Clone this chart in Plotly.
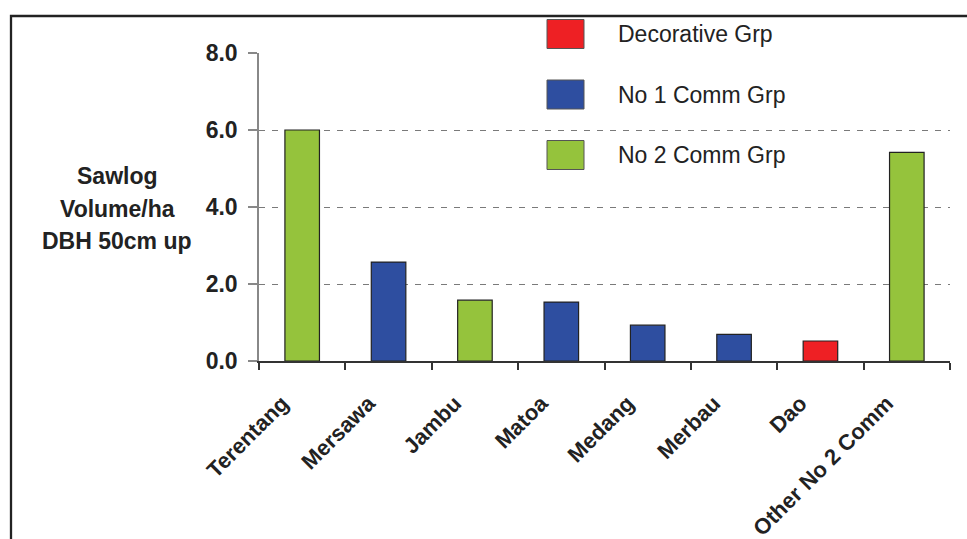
import plotly.graph_objects as go

categories = ["Terentang", "Mersawa", "Jambu", "Matoa", "Medang", "Merbau", "Dao", "Other No 2 Comm"]
values = [6.0, 2.57, 1.58, 1.53, 0.93, 0.69, 0.52, 5.42]
groups = ["No 2 Comm Grp", "No 1 Comm Grp", "No 2 Comm Grp", "No 1 Comm Grp",
          "No 1 Comm Grp", "No 1 Comm Grp", "Decorative Grp", "No 2 Comm Grp"]
legend_order = ["Decorative Grp", "No 1 Comm Grp", "No 2 Comm Grp"]
group_colors = {"Decorative Grp": "#EE2024", "No 1 Comm Grp": "#2E4EA0", "No 2 Comm Grp": "#95C33C"}
y_ticks = [0, 2, 4, 6, 8]
y_title_lines = ["Sawlog", "Volume/ha", "DBH 50cm up"]

FONT = "Liberation Sans, Arial, Helvetica, sans-serif"
W, H = 967, 539
L, R, T, B = 259, 17, 53, 178
PW, PH = W - L - R, H - T - B

def px_x(x):
    return (x - L) / PW

def px_y(y):
    return (H - B - y) / PH

fig = go.Figure()
fig.add_trace(go.Bar(
    x=categories, y=values,
    marker=dict(color=[group_colors[g] for g in groups], line=dict(color="#222222", width=1.2)),
    width=0.4, showlegend=False, hoverinfo="x+y",
))

shapes = []
annotations = []
# outer frame
shapes.append(dict(type="rect", xref="paper", yref="paper",
                   x0=px_x(11), x1=px_x(1000), y0=px_y(580), y1=px_y(16),
                   line=dict(color="#222222", width=2.3), fillcolor="rgba(0,0,0,0)", layer="above"))
# manual legend
for i, g in enumerate(legend_order):
    cy = 34 + i * 60.5
    shapes.append(dict(type="rect", xref="paper", yref="paper",
                       x0=px_x(547), x1=px_x(584), y0=px_y(cy + 14.5), y1=px_y(cy - 14.5),
                       fillcolor=group_colors[g], line=dict(color="#555555", width=1), layer="above"))
    annotations.append(dict(text=g, xref="paper", yref="paper", x=px_x(616), y=px_y(cy),
                            xanchor="left", yanchor="middle", showarrow=False,
                            font=dict(family=FONT, size=23, color="#222222")))
# y title, one line per annotation
for i, line in enumerate(y_title_lines):
    annotations.append(dict(text="<b>" + line + "</b>", xref="paper", yref="paper",
                            x=px_x(117), y=px_y(176 + i * 32.5), xanchor="center", yanchor="middle",
                            showarrow=False, align="center",
                            font=dict(family=FONT, size=23, color="#222222")))

fig.update_layout(
    width=W, height=H,
    margin=dict(l=L, r=R, t=T, b=B, pad=0, autoexpand=False),
    paper_bgcolor="white", plot_bgcolor="white",
    font=dict(family=FONT, color="#222222"),
    shapes=shapes, annotations=annotations,
    bargap=0.6,
)
fig.update_xaxes(
    type="category", showline=True, linecolor="#333333", linewidth=1.5,
    ticks="outside", tickson="boundaries", ticklen=7, tickcolor="#333333", tickwidth=1.5,
    tickangle=-45, tickfont=dict(family=FONT, size=22, color="#222222", weight="bold"),
    ticklabelstandoff=19, ticklabelshift=-20, automargin=False,
    showgrid=False, zeroline=False,
)
fig.update_yaxes(
    range=[0, 8], tickvals=y_ticks, ticktext=[f"{v:.1f}" for v in y_ticks],
    showline=True, linecolor="#888888", linewidth=1.5,
    ticks="outside", ticklen=9, tickcolor="#888888", tickwidth=1.5,
    tickfont=dict(family=FONT, size=23, color="#222222", weight="bold"),
    ticklabelstandoff=6, automargin=False,
    showgrid=True, gridcolor="#7a7a7a", gridwidth=1.4, griddash="6px,7px",
    zeroline=False,
)
fig.write_html("out.html")
